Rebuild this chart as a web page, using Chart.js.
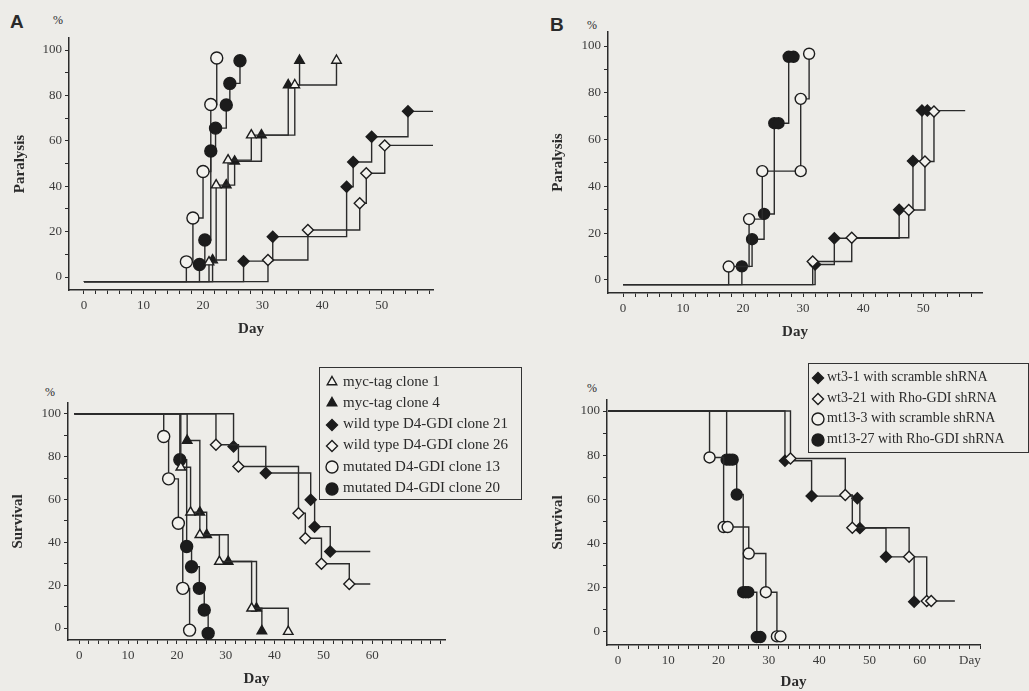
<!DOCTYPE html>
<html>
<head>
<meta charset="utf-8">
<script src="https://cdn.jsdelivr.net/npm/chart.js@4.4.0/dist/chart.umd.min.js"></script>
<style>
  body { margin: 0; width: 1029px; height: 691px; overflow: hidden; position: relative;
         background: #edece8; font-family: "Liberation Serif", "Times New Roman", serif; color: #2a2a2a; }
  canvas { position: absolute; }
  .txt { position: absolute; white-space: nowrap; line-height: 1; }
  .panel { font-family: "Liberation Sans", Arial, sans-serif; font-weight: bold; font-size: 19px; }
  .pct { font-size: 12px; }
  .legend { position: absolute; border: 1.5px solid #333; box-sizing: border-box; }
  .legend div { position: absolute; white-space: nowrap; line-height: 1; }
  .legend canvas { position: absolute; }
</style>
</head>
<body>

<div class="txt panel" style="left:10px;top:12px;">A</div>
<div class="txt panel" style="left:550px;top:15px;">B</div>
<div class="txt pct" style="left:53px;top:14px;">%</div>
<div class="txt pct" style="left:45px;top:386px;">%</div>
<div class="txt pct" style="left:587px;top:19px;">%</div>
<div class="txt pct" style="left:587px;top:382px;">%</div>

<canvas id="aTop" width="460" height="345" style="left:0;top:0;"></canvas>
<canvas id="aBot" width="460" height="345" style="left:0;top:350px;"></canvas>
<canvas id="bTop" width="489" height="345" style="left:540px;top:0;"></canvas>
<canvas id="bBot" width="489" height="345" style="left:540px;top:350px;"></canvas>

<div id="legendA" class="legend" style="left:319px;top:367px;width:203px;height:133px;"></div>
<div id="legendB" class="legend" style="left:808px;top:363px;width:221px;height:90px;"></div>

<script>
/* ---------- DATA (day, %) ---------- */

// A - paralysis
const paraMyc1  = [[21, 6.6], [22.2, 40.5], [24.2, 51.5], [28.1, 62.5], [35.4, 84.6], [42.4, 95.4]];
const paraMyc4  = [[21.6, 7.5], [23.9, 40.5], [25.3, 51], [29.8, 62.5], [34.3, 84.6], [36.2, 95.4]];
const paraWt21  = [[26.8, 7], [31.7, 17.8], [44.1, 39.8], [45.2, 50.7], [48.3, 61.8], [54.4, 73]];
const paraWt26  = [[30.9, 7.5], [37.6, 20.7], [46.3, 32.5], [47.4, 45.7], [50.5, 58]];
const paraMut13 = [[17.2, 6.7], [18.3, 26], [20, 46.5], [21.3, 76], [22.3, 96.5]];
const paraMut20 = [[19.4, 5.5], [20.3, 16.3], [21.3, 55.5], [22.1, 65.6], [23.9, 75.8], [24.5, 85.3], [26.2, 95.3]];

// A - survival
const survMyc1  = [[20.8, 75], [22.8, 54], [24.7, 43.5], [28.7, 31], [35.3, 9.2], [42.8, -1.7]];
const survMyc4  = [[22.1, 87.5], [24.7, 54], [26.1, 43.5], [30.5, 31], [36.3, 9.2], [37.4, -1.4]];
const survWt21  = [[31.6, 84.7], [38.2, 72.3], [47.4, 59.8], [48.2, 47.3], [51.4, 35.7]];
const survWt26  = [[28, 85.5], [32.6, 75.4], [44.9, 53.6], [46.3, 41.9], [49.6, 30], [55.3, 20.5]];
const survMut13 = [[17.3, 89.4], [18.3, 69.6], [20.3, 48.9], [21.2, 18.5], [22.6, -1]];
const survMut20 = [[20.6, 78.5], [22, 38], [23, 28.6], [24.6, 18.5], [25.6, 8.4], [26.4, -2.5]];

// B - paralysis
const bParaWt31   = [[32, 6.6], [35.2, 17.8], [46, 30], [48.3, 50.8], [49.8, 72.4], [50.7, 72.4]];
const bParaWt321  = [[31.6, 7.9], [38.1, 18], [47.6, 29.9], [50.3, 50.6], [51.8, 72]];
const bParaMt133  = [[17.6, 5.7], [21, 26], [23.2, 46.5], [29.6, 46.5], [29.6, 77.4], [31, 96.7]];
const bParaMt1327 = [[19.8, 5.8], [21.5, 17.4], [23.5, 28.2], [25.2, 67], [25.9, 67], [27.6, 95.4], [28.4, 95.4]];

// B - survival
const bSurvWt31   = [[33.2, 77.5], [38.5, 61.5], [47.6, 60.5], [48.1, 47], [53.3, 34], [58.9, 13.7]];
const bSurvWt321  = [[34.3, 78.5], [45.2, 62], [46.6, 47.2], [57.9, 34], [61.4, 14], [62.3, 14]];
const bSurvMt133  = [[18.2, 79], [21, 47.5], [21.8, 47.5], [26, 35.5], [29.4, 18], [31.6, -2], [32.3, -2]];
const bSurvMt1327 = [[21.6, 78], [22.2, 78], [22.8, 78], [23.6, 62.2], [24.9, 18], [25.4, 18], [25.9, 18], [27.6, -2.3], [28.3, -2.3]];

// curve starts (day, %) and end of the trailing lines
const paraStart = [0, -2];
const survStartA = [-1, 100];
const survStartB = [-2, 100];
const paraTailA = 58.6;
const survTailA = 59.6;
const paraTailB = 57;
const survTailB = 67;

// tick labels
const xLabelsPara = [0, 10, 20, 30, 40, 50];
const xLabelsSurv = [0, 10, 20, 30, 40, 50, 60];
const yLabels     = [0, 20, 40, 60, 80, 100];

const legendA = ['myc-tag clone 1', 'myc-tag clone 4', 'wild type D4-GDI clone 21',
                 'wild type D4-GDI clone 26', 'mutated D4-GDI clone 13', 'mutated D4-GDI clone 20'];
const legendB = ['wt3-1 with scramble shRNA', 'wt3-21 with Rho-GDI shRNA',
                 'mt13-3 with scramble shRNA', 'mt13-27 with Rho-GDI shRNA'];

/* ---------- STYLE ---------- */
const INK = '#2b2b2b';
const PAPER = '#f3f2ee';
const SERIF = '"Liberation Serif", "Times New Roman", serif';

const markers = {
  hollowTri:  { style: 'triangle', filled: false, r: 5.5 },
  filledTri:  { style: 'triangle', filled: true,  r: 5.5 },
  filledDia:  { style: 'rectRot',  filled: true,  r: 5.5 },
  hollowDia:  { style: 'rectRot',  filled: false, r: 5.5 },
  hollowCirc: { style: 'circle',   filled: false, r: 6 },
  filledCirc: { style: 'circle',   filled: true,  r: 6 }
};

function series(events, start, tailDay, mk, r) {
  const pts = [{ x: start[0], y: start[1] }].concat(events.map(e => ({ x: e[0], y: e[1], m: true })));
  if (tailDay) pts.push({ x: tailDay, y: events[events.length - 1][1] });
  const radius = r || mk.r;
  return {
    data: pts,
    stepped: 'before',
    borderColor: INK,
    borderWidth: 1.4,
    fill: false,
    clip: false,
    pointStyle: mk.style,
    pointRadius: ctx => (ctx.raw && ctx.raw.m ? radius : 0),
    pointBackgroundColor: mk.filled ? '#1c1c1c' : PAPER,
    pointBorderColor: '#1c1c1c',
    pointBorderWidth: 1.4
  };
}

function stepTicks(from, to, step) {
  const out = [];
  for (let v = from; v <= to + 1e-6; v += step) out.push({ value: v });
  return out;
}

function makePanel(id, p) {
  const canvas = document.getElementById(id);
  const W = canvas.width, H = canvas.height;
  return new Chart(canvas, {
    type: 'line',
    data: { datasets: p.datasets },
    options: {
      responsive: false,
      animation: false,
      devicePixelRatio: 1,
      layout: { padding: { top: p.box.t, right: W - p.box.r, left: 0, bottom: 0 } },
      plugins: { legend: { display: false }, tooltip: { enabled: false } },
      scales: {
        x: {
          type: 'linear',
          min: p.xMin, max: p.xMax,
          afterFit: s => { s.height = H - p.box.b; },
          afterBuildTicks: s => { s.ticks = stepTicks(0, Math.floor(p.xMax), 2); },
          border: { display: true, color: INK, width: 1.5 },
          grid: { drawOnChartArea: false, tickLength: 4, color: INK, lineWidth: 1 },
          ticks: {
            autoSkip: false, maxRotation: 0, padding: 4, color: '#3a3a3a',
            font: { family: SERIF, size: 13 },
            callback: v => (p.xLabels.includes(v) ? String(v) : (v === p.extraAt ? p.extraText : ''))
          },
          title: { display: true, text: 'Day', color: INK,
                   font: { family: SERIF, size: 15, weight: 'bold' },
                   padding: { top: 0, bottom: p.dayPad } }
        },
        y: {
          type: 'linear',
          min: p.yMin, max: p.yMax,
          afterFit: s => { s.width = p.box.l; },
          afterBuildTicks: s => { s.ticks = stepTicks(0, 100, 10); },
          border: { display: true, color: INK, width: 1.5 },
          grid: { drawOnChartArea: false, tickLength: 4, color: INK, lineWidth: 1 },
          ticks: {
            padding: 3, color: '#3a3a3a',
            font: { family: SERIF, size: 13 },
            callback: v => (yLabels.includes(v) ? String(v) : '')
          },
          title: { display: true, text: p.yTitle, color: INK,
                   font: { family: SERIF, size: 15, weight: 'bold' },
                   padding: { top: p.yTitlePad, bottom: 0 } }
        }
      }
    }
  });
}

/* ---------- PANEL A ---------- */
makePanel('aTop', {
  box: { l: 69, t: 38, r: 433, b: 290 },
  xMin: -2.5, xMax: 58.6, yMin: -5.7, yMax: 105.3,
  xLabels: xLabelsPara, yTitle: 'Paralysis', yTitlePad: 11, dayPad: 7,
  datasets: [
    series(paraWt26,  paraStart, paraTailA, markers.hollowDia),
    series(paraWt21,  paraStart, paraTailA, markers.filledDia),
    series(paraMyc1,  paraStart, null, markers.hollowTri),
    series(paraMyc4,  paraStart, null, markers.filledTri),
    series(paraMut20, paraStart, null, markers.filledCirc),
    series(paraMut13, paraStart, null, markers.hollowCirc)
  ]
});

makePanel('aBot', {
  box: { l: 68, t: 53, r: 445, b: 290 },
  xMin: -2.3, xMax: 74.9, yMin: -5.6, yMax: 105,
  xLabels: xLabelsSurv, yTitle: 'Survival', yTitlePad: 9, dayPad: 7,
  datasets: [
    series(survWt26,  survStartA, survTailA, markers.hollowDia),
    series(survWt21,  survStartA, survTailA, markers.filledDia),
    series(survMyc1,  survStartA, null, markers.hollowTri),
    series(survMyc4,  survStartA, null, markers.filledTri),
    series(survMut20, survStartA, null, markers.filledCirc),
    series(survMut13, survStartA, null, markers.hollowCirc)
  ]
});

/* ---------- PANEL B ---------- */
makePanel('bTop', {
  box: { l: 68, t: 32, r: 442, b: 293 },
  xMin: -2.5, xMax: 59.8, yMin: -5.6, yMax: 106,
  xLabels: xLabelsPara, yTitle: 'Paralysis', yTitlePad: 9, dayPad: 4,
  datasets: [
    series(bParaWt321,  paraStart, null, markers.hollowDia),
    series(bParaWt31,   paraStart, paraTailB, markers.filledDia),
    series(bParaMt133,  paraStart, null, markers.hollowCirc, 5.5),
    series(bParaMt1327, paraStart, null, markers.filledCirc, 5.5)
  ]
});

makePanel('bBot', {
  box: { l: 67, t: 50, r: 440, b: 295 },
  xMin: -2.2, xMax: 72, yMin: -5.9, yMax: 105,
  xLabels: xLabelsSurv, extraAt: 70, extraText: 'Day',
  yTitle: 'Survival', yTitlePad: 9, dayPad: 4,
  datasets: [
    series(bSurvWt321,  survStartB, survTailB, markers.hollowDia),
    series(bSurvWt31,   survStartB, null, markers.filledDia),
    series(bSurvMt133,  survStartB, null, markers.hollowCirc, 5.5),
    series(bSurvMt1327, survStartB, null, markers.filledCirc, 5.5)
  ]
});

/* ---------- LEGENDS ---------- */
function drawMarker(ctx, mk, x, y) {
  ctx.strokeStyle = '#1c1c1c';
  ctx.fillStyle = mk.filled ? '#1c1c1c' : PAPER;
  ctx.lineWidth = 1.4;
  Chart.helpers.drawPoint(ctx, { pointStyle: mk.style, radius: mk.r, borderWidth: 1.4 }, x, y);
}

function buildLegend(id, labels, mks, opts) {
  const box = document.getElementById(id);
  labels.forEach((text, i) => {
    const y = opts.firstY + i * opts.rowH;
    const c = document.createElement('canvas');
    c.width = 16; c.height = 16;
    c.style.left = (opts.markX - 8) + 'px';
    c.style.top = (y - 8) + 'px';
    box.appendChild(c);
    drawMarker(c.getContext('2d'), mks[i], 8, 8);
    const t = document.createElement('div');
    t.textContent = text;
    t.style.left = opts.textX + 'px';
    t.style.top = (y - opts.fontSize / 2 - 1) + 'px';
    t.style.fontSize = opts.fontSize + 'px';
    box.appendChild(t);
  });
}

buildLegend('legendA', legendA,
  [markers.hollowTri, markers.filledTri, markers.filledDia, markers.hollowDia, markers.hollowCirc, markers.filledCirc],
  { firstY: 14, rowH: 21.3, markX: 12, textX: 23, fontSize: 15 });

buildLegend('legendB', legendB,
  [markers.filledDia, markers.hollowDia, markers.hollowCirc, markers.filledCirc],
  { firstY: 14, rowH: 20.6, markX: 9, textX: 18, fontSize: 14 });
</script>
</body>
</html>
